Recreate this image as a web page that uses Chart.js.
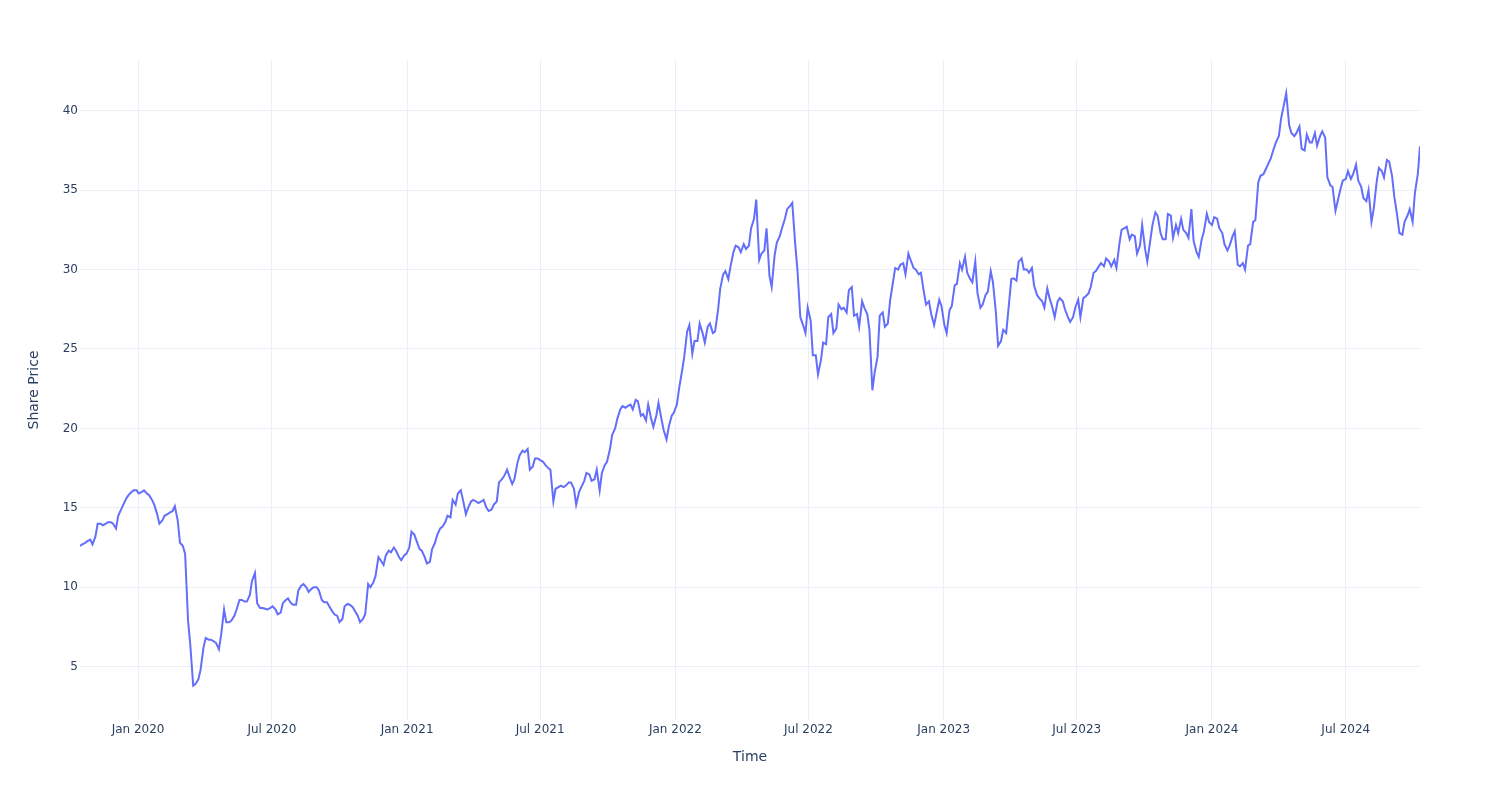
<!DOCTYPE html>
<html>
<head>
<meta charset="utf-8">
<title>Share Price</title>
<script src="https://cdn.jsdelivr.net/npm/chart.js@4.4.1/dist/chart.umd.min.js"></script>
<style>
  html, body { margin: 0; padding: 0; background: #fff; }
  #wrap { width: 1500px; height: 800px; }
</style>
</head>
<body>
<div id="wrap"><canvas id="grafico" width="1500" height="800"></canvas></div>
<script>
// Cotización: un valor cada lunes y otro cada jueves
const START_DATE = "2019-10-14";

const LUNES = [
  12.6, 12.8, 13.0, 13.2, 14.0, 14.0, 14.1, 13.7, 14.9, 15.6,
  16.0, 16.1, 16.0, 15.9, 15.5, 14.6, 14.2, 14.6, 14.8, 14.2,
  12.6, 7.9, 3.8, 4.2, 6.2, 6.7, 6.6, 6.1, 8.6, 7.8,
  8.2, 9.2, 9.1, 9.5, 10.9, 8.7, 8.65, 8.7, 8.6, 8.4,
  9.2, 9.0, 8.9, 10.1, 10.0, 9.9, 10.0, 9.2, 9.06, 8.5,
  8.2, 8.0, 8.95, 8.75, 8.2, 8.0, 10.2, 10.3, 11.9, 11.4,
  12.3, 12.5, 11.9, 12.0, 12.5, 13.3, 12.4, 11.9, 11.6, 12.8,
  13.7, 14.1, 14.4, 15.2, 16.1, 14.6, 15.4, 15.4, 15.4, 15.0,
  14.9, 15.4, 16.8, 17.4, 16.5, 17.8, 18.6, 18.7, 17.6, 18.1,
  17.9, 17.5, 15.4, 16.3, 16.3, 16.6, 16.2, 16.0, 16.7, 17.1,
  16.8, 16.1, 17.7, 18.7, 20.0, 21.2, 21.3, 21.5, 21.8, 20.8,
  20.5, 20.6, 20.8, 20.6, 19.3, 20.8, 21.5, 23.6, 26.1, 24.7,
  25.5, 26.0, 26.4, 26.0, 27.45, 29.7, 29.4, 31.1, 31.4, 31.6,
  31.5, 33.2, 30.6, 31.2, 29.6, 30.9, 32.1, 33.2, 34.0, 31.6,
  27.0, 26.0, 26.8, 24.6, 24.3, 25.3, 27.2, 26.3, 27.5, 27.3,
  28.9, 27.2, 28.0, 27.2, 22.4, 24.5, 27.3, 26.6, 29.2, 30.0,
  30.4, 31.0, 30.1, 29.7, 28.6, 28.0, 26.5, 28.1, 26.5, 27.45,
  29.0, 30.4, 30.8, 29.4, 30.5, 27.6, 28.4, 29.9, 27.3, 25.5,
  26.0, 29.4, 29.3, 30.7, 30.0, 30.1, 28.4, 28.0, 28.8, 27.6,
  28.0, 28.0, 27.0, 27.0, 28.1, 28.2, 28.5, 29.8, 30.2, 30.2,
  30.5, 30.6, 31.6, 32.6, 31.9, 32.1, 31.5, 31.3, 31.8, 33.6,
  32.3, 31.9, 33.4, 32.8, 33.2, 32.3, 33.8, 31.1, 31.9, 33.5,
  32.8, 33.2, 32.3, 31.2, 32.1, 30.3, 30.4, 31.5, 33.0, 35.5,
  36.0, 36.7, 37.6, 38.4, 40.4, 39.1, 38.4, 39.0, 37.5, 38.0,
  38.6, 38.4, 38.3, 35.3, 33.7, 35.1, 35.7, 35.7, 36.6, 35.2,
  34.3, 33.0, 35.5, 36.2, 36.9, 35.9, 33.4, 32.2, 33.4, 33.0,
  36.0
];

const JUEVES = [
  12.7, 12.9, 12.7, 14.0, 13.9, 14.1, 14.0, 14.5, 15.2, 15.8,
  16.1, 15.9, 16.1, 15.8, 15.2, 14.0, 14.5, 14.7, 15.1, 12.8,
  12.1, 6.4, 3.9, 4.8, 6.8, 6.7, 6.5, 7.0, 7.8, 7.9,
  8.6, 9.2, 9.1, 10.4, 9.0, 8.7, 8.6, 8.8, 8.3, 9.0,
  9.3, 8.9, 9.8, 10.2, 9.7, 10.0, 9.8, 9.06, 8.8, 8.3,
  7.8, 8.8, 8.9, 8.5, 7.8, 8.3, 10.0, 10.7, 11.7, 12.0,
  12.2, 12.3, 11.7, 12.1, 13.5, 12.9, 12.3, 11.5, 12.4, 13.3,
  13.8, 14.5, 15.5, 15.9, 15.5, 15.0, 15.5, 15.3, 15.5, 14.8,
  15.2, 16.6, 17.0, 17.0, 16.8, 18.3, 18.5, 17.4, 18.1, 18.0,
  17.7, 17.4, 16.2, 16.4, 16.4, 16.6, 15.2, 16.3, 17.2, 16.7,
  17.4, 17.2, 17.9, 19.6, 20.6, 21.4, 21.4, 21.2, 21.7, 20.9,
  21.5, 20.1, 21.6, 19.9, 20.1, 21.0, 22.5, 24.5, 26.5, 25.5,
  26.6, 25.4, 26.6, 26.1, 28.8, 29.9, 30.2, 31.5, 31.1, 31.3,
  32.6, 34.4, 31.0, 32.6, 28.9, 31.7, 32.6, 33.8, 34.2, 30.0,
  26.6, 27.6, 24.6, 23.4, 25.4, 27.0, 26.0, 27.8, 27.6, 28.7,
  27.1, 26.4, 27.6, 26.2, 23.5, 27.1, 26.4, 28.0, 30.1, 30.3,
  29.7, 30.6, 30.0, 29.8, 27.8, 27.2, 27.2, 27.7, 26.0, 27.7,
  29.1, 30.0, 29.8, 29.2, 28.5, 27.8, 28.6, 29.2, 25.2, 26.2,
  27.45, 29.45, 30.5, 30.0, 29.8, 29.0, 28.2, 27.6, 28.2, 27.0,
  28.2, 27.5, 26.7, 27.6, 27.0, 28.3, 28.9, 29.9, 30.4, 30.7,
  30.2, 30.1, 32.5, 32.7, 32.2, 31.0, 32.8, 30.5, 32.8, 33.4,
  31.9, 33.5, 32.0, 32.3, 32.5, 32.0, 31.8, 30.8, 32.4, 33.0,
  33.3, 32.6, 31.6, 31.5, 32.4, 30.2, 30.0, 31.6, 33.1, 35.9,
  36.3, 37.0, 38.0, 39.5, 41.1, 38.6, 38.6, 37.6, 38.5, 38.0,
  37.8, 38.7, 35.8, 35.2, 34.3, 35.6, 36.2, 36.0, 35.6, 34.5,
  35.0, 33.8, 36.4, 35.8, 36.8, 34.6, 32.3, 33.0, 33.8, 34.8,
  37.75
];

const X_TICKS = ["2020-01-01", "2020-07-01", "2021-01-01", "2021-07-01", "2022-01-01",
  "2022-07-01", "2023-01-01", "2023-07-01", "2024-01-01", "2024-07-01"];
const X_TICK_LABELS = ["Jan 2020", "Jul 2020", "Jan 2021", "Jul 2021", "Jan 2022",
  "Jul 2022", "Jan 2023", "Jul 2023", "Jan 2024", "Jul 2024"];
const Y_TICKS = [5, 10, 15, 20, 25, 30, 35, 40];

const FONT_FAMILY = "'DejaVu Sans', Verdana, sans-serif";
const TEXT_COLOR = "#2a3f5f";
const GRID_COLOR = "#EBF0F8";
const DAY = 86400000;

function utc(s) {
  const [y, m, d] = s.split("-").map(Number);
  return Date.UTC(y, m - 1, d);
}

// lunes y jueves intercalados
const puntos = [];
LUNES.forEach((v, i) => {
  const lunes = utc(START_DATE) + i * 7 * DAY;
  puntos.push({ x: lunes, y: v });
  puntos.push({ x: lunes + 3 * DAY, y: JUEVES[i] });
});

const ctx = document.getElementById("grafico").getContext("2d");
new Chart(ctx, {
  type: "line",
  data: {
    datasets: [{
      label: "Share Price",
      data: puntos,
      borderColor: "#636EFA",
      backgroundColor: "#636EFA",
      borderWidth: 2,
      pointRadius: 0,
      tension: 0,
      fill: false
    }]
  },
  options: {
    responsive: false,
    animation: false,
    layout: { padding: { top: 60, right: 80, left: 0, bottom: 0 } },
    plugins: { legend: { display: false }, tooltip: { enabled: false } },
    scales: {
      x: {
        type: "linear",
        min: puntos[0].x,
        max: puntos[puntos.length - 1].x,
        afterBuildTicks: (s) => { s.ticks = X_TICKS.map(d => ({ value: utc(d) })); },
        afterFit: (s) => { s.height = 80; },
        ticks: {
          autoSkip: false,
          maxRotation: 0,
          padding: 3,
          color: TEXT_COLOR,
          font: { family: FONT_FAMILY, size: 12 },
          callback: (v, i) => X_TICK_LABELS[i]
        },
        grid: { color: GRID_COLOR, lineWidth: 1, drawTicks: false },
        border: { display: false },
        title: {
          display: true,
          text: "Time",
          color: TEXT_COLOR,
          font: { family: FONT_FAMILY, size: 14 },
          padding: { top: 0, bottom: 34 }
        }
      },
      y: {
        min: 1.645,
        max: 43.19,
        afterBuildTicks: (s) => { s.ticks = Y_TICKS.map(v => ({ value: v })); },
        afterFit: (s) => { s.width = 80; },
        ticks: {
          padding: 2,
          color: TEXT_COLOR,
          font: { family: FONT_FAMILY, size: 12 }
        },
        grid: { color: GRID_COLOR, lineWidth: 1, drawTicks: false },
        border: { display: false },
        title: {
          display: true,
          text: "Share Price",
          color: TEXT_COLOR,
          font: { family: FONT_FAMILY, size: 14 },
          padding: { top: 26, bottom: 0 }
        }
      }
    }
  }
});
</script>
</body>
</html>
